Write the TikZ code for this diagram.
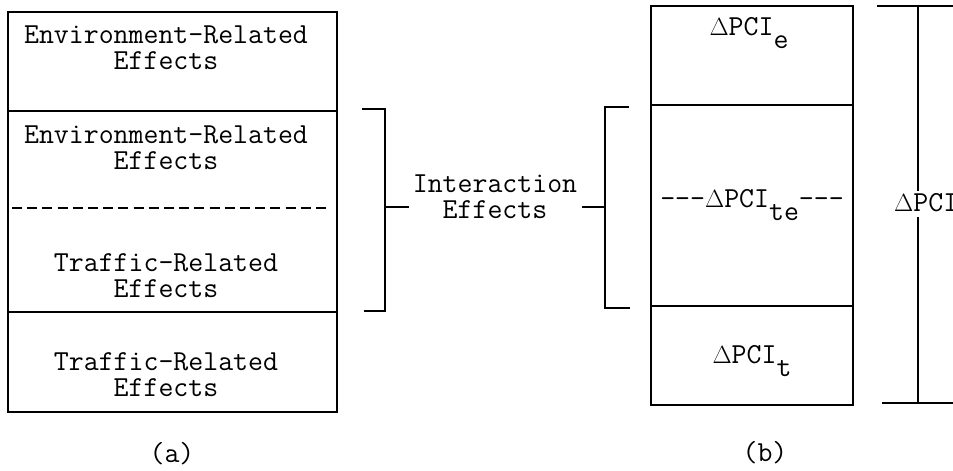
\documentclass[tikz,border=0pt]{standalone}
\begin{document}
\begin{tikzpicture}[x=1pt,y=-1pt,
  every node/.style={font=\ttfamily\fontsize{29}{26}\selectfont, inner sep=0pt},
  txt/.style={align=center},
  ln/.style={line width=1.8pt}]
\useasboundingbox (0,0) rectangle (953,471);
% --- box (a) ---
\draw[ln] (8,12) rectangle (337,412);
\draw[ln] (8,111) -- (337,111);
\draw[ln] (8,312) -- (337,312);
\draw[line width=1.4pt, dash pattern=on 10pt off 5.2pt] (12,208) -- (331,208);
\node[txt] (ta1) at (166,48) {Environment-Related\\Effects};
\node[txt] (ta2) at (166,148) {Environment-Related\\Effects};
\node[txt] (ta3) at (166,276) {Traffic-Related\\Effects};
\node[txt] (ta4) at (166,375) {Traffic-Related\\Effects};
\node (la) at (172,454) {(a)};
% --- interaction brackets ---
\coordinate (lbt) at (362,109);
\coordinate (lbb) at (364,311);
\coordinate (lbm) at (385,207);
\coordinate (lbe) at (409,207);
\coordinate (rbt) at (629,107);
\coordinate (rbb) at (630,308);
\coordinate (rbm) at (605,207);
\coordinate (rbe) at (582,207);
\node[txt] (ie) at (495,197) {Interaction\\Effects};
\draw[ln] (lbt) -- (lbt -| lbm) -- (lbb -| lbm) -- (lbb);
\draw[ln] (lbm) -- (lbe);
\draw[ln] (rbt) -- (rbt -| rbm) -- (rbb -| rbm) -- (rbb);
\draw[ln] (rbm) -- (rbe);
% --- box (b) ---
\draw[ln] (651,6) rectangle (853,405);
\draw[ln] (651,105) -- (853,105);
\draw[ln] (651,306) -- (853,306);
\node (pe) at (749,33) {$\Delta$PCI\raisebox{-0.45em}{e}};
\node (pte) at (752,205) {-{}-{}-$\Delta$PCI\raisebox{-0.45em}{te}-{}-{}-};
\node (pt) at (752,361) {$\Delta$PCI\raisebox{-0.45em}{t}};
\node (lb) at (765,453) {(b)};
% --- total bracket ---
\coordinate (tt) at (918,6);
\coordinate (tb) at (918,403);
\coordinate (tm1) at (918,191);
\coordinate (tm2) at (918,217);
\node[anchor=west] (ptot) at (894,203) {$\Delta$PCI};
\draw[ln] (877,6) -- (953,6);
\draw[ln] (882,403) -- (953,403);
\draw[ln] (tt) -- (tm1);
\draw[ln] (tm2) -- (tb);
\end{tikzpicture}
\end{document}
